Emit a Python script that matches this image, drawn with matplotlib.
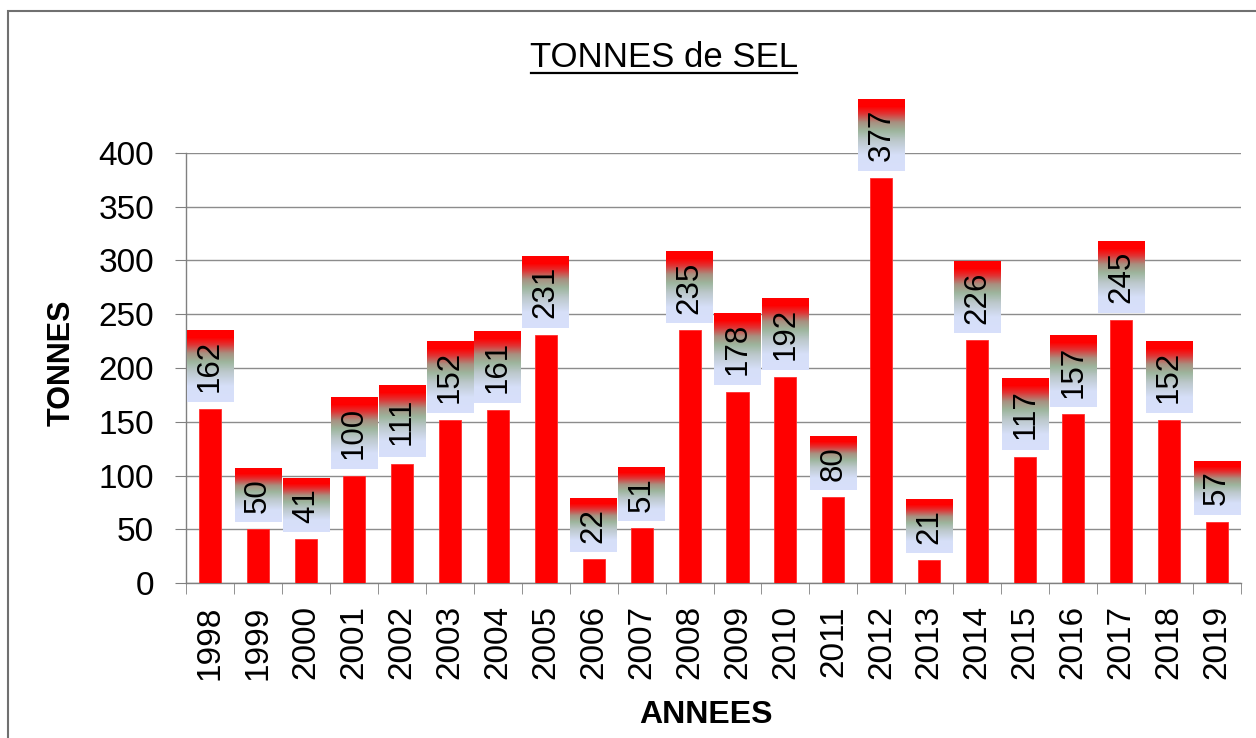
import numpy as np
import matplotlib.pyplot as plt
from matplotlib.patches import Rectangle
from matplotlib.lines import Line2D
from matplotlib.colors import LinearSegmentedColormap

plt.rcParams['font.family'] = ['Liberation Sans', 'DejaVu Sans']

annees = ['1998', '1999', '2000', '2001', '2002', '2003', '2004', '2005', '2006', '2007', '2008',
          '2009', '2010', '2011', '2012', '2013', '2014', '2015', '2016', '2017', '2018', '2019']
tonnes = [162, 50, 41, 100, 111, 152, 161, 231, 22, 51, 235,
          178, 192, 80, 377, 21, 226, 117, 157, 245, 152, 57]

fig = plt.figure(figsize=(12.56, 7.38), dpi=100)
ax = fig.add_axes([0.1481, 0.2100, 0.8400, 0.5827])

x = np.arange(len(annees))
ax.bar(x, tonnes, width=0.46, color='#ff0000', edgecolor='#ff3030', linewidth=0.6, zorder=3)

# gradient for the label boxes (bottom -> top)
grad = LinearSegmentedColormap.from_list('lbl', [
    (0.0, '#d8e0fb'), (0.22, '#d6dff8'), (0.42, '#bcc8cc'),
    (0.56, '#9db59d'), (0.68, '#a89080'), (0.8, '#e03434'), (0.9, '#ff0000'), (1.0, '#ff0000')])
img = np.linspace(0, 1, 100).reshape(-1, 1)

px = 430 / 400.0  # pixels per unit
gap = 7 / px
for xi, v in zip(x, tonnes):
    s = str(v)
    box_h = (len(s) * 17.8 + 18) / px
    y0 = v + gap
    ax.imshow(img, cmap=grad, origin='lower', aspect='auto', interpolation='bilinear',
              extent=(xi - 0.485, xi + 0.485, y0, y0 + box_h), clip_on=False, zorder=4)
    ax.text(xi, y0 + box_h / 2, s, rotation=90, ha='center', va='center',
            fontsize=22.5, color='black', zorder=5, clip_on=False)

ax.set_xlim(-0.5, len(annees) - 0.5)
ax.set_ylim(0, 400)
ax.set_yticks(np.arange(0, 401, 50))
ax.set_xticks(x)
ax.set_xticklabels(annees, rotation=90, fontsize=24)
ax.tick_params(axis='x', length=0, pad=16)
ax.set_xticks(np.arange(-0.5, len(annees), 1), minor=True)
ax.tick_params(axis='x', which='minor', length=8, color='#808080', direction='out')
ax.tick_params(axis='y', labelsize=24, length=8, color='#808080', pad=15)
ax.yaxis.grid(True, color='#8c8c8c', linewidth=1, zorder=0)
ax.set_axisbelow(True)
for s in ['top', 'right']:
    ax.spines[s].set_visible(False)
for s in ['left', 'bottom']:
    ax.spines[s].set_color('#808080')
    ax.spines[s].set_linewidth(1)

fig.text(62 / 1256, 1 - 363 / 738, 'TONNES', rotation=90, ha='center', va='center',
         fontsize=22, fontweight='bold')
fig.text(706 / 1256, 1 - 715 / 738, 'ANNEES', ha='center', va='center',
         fontsize=23, fontweight='bold')

title = fig.text(664 / 1256, 1 - 67 / 738, 'TONNES de SEL', ha='center', va='baseline', fontsize=25)
fig.add_artist(Line2D([531 / 1256, 797 / 1256], [1 - 73 / 738, 1 - 73 / 738],
                      transform=fig.transFigure, color='black', linewidth=1.6))

fig.add_artist(Rectangle((8 / 1256, -0.1), 1.2, (738 - 11) / 738 + 0.1,
                         transform=fig.transFigure, fill=False,
                         edgecolor='#707070', linewidth=1.5))

fig.savefig('out.png', dpi=100)
